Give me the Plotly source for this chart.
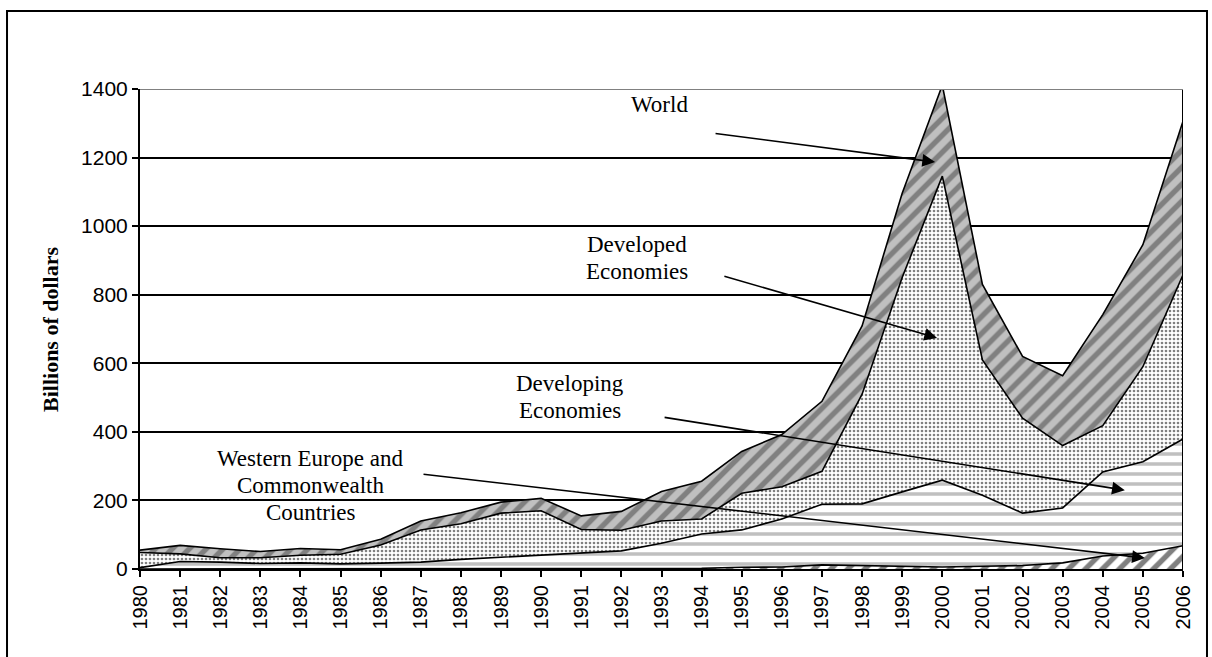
import plotly.graph_objects as go

years = list(range(1980, 2007))
world = [55, 69, 59, 51, 60, 56, 87, 140, 164, 195, 206, 155, 168, 226, 256, 343, 392, 489, 709, 1096, 1411, 830, 620, 564, 742, 946, 1306]
developed = [48, 44, 33, 33, 40, 43, 70, 114, 132, 163, 170, 115, 113, 140, 146, 221, 240, 285, 510, 850, 1146, 610, 440, 360, 418, 590, 858]
developing = [4, 22, 20, 16, 18, 15, 17, 20, 28, 34, 40, 45, 53, 75, 102, 114, 146, 189, 190, 225, 259, 215, 163, 178, 283, 313, 379]
cis = [0, 0, 0, 0, 0, 0, 0, 0, 0, 0, 0, 0, 1, 2, 2, 5, 6, 12, 10, 9, 6, 8, 10, 18, 38, 46, 68]
y_ticks = [0, 200, 400, 600, 800, 1000, 1200, 1400]

fig = go.Figure()

def area(vals, shape, fg, bg, size, solidity):
    fig.add_trace(go.Scatter(
        x=years, y=vals, mode="lines", fill="tozeroy",
        line=dict(color="black", width=1.6),
        fillpattern=dict(shape=shape, fgcolor=fg, bgcolor=bg, size=size,
                         solidity=solidity, fillmode="replace"),
        hoverinfo="skip", showlegend=False))

area(world, "/", "#808080", "#c0c0c0", 12, 0.45)
area(developed, ".", "#808080", "white", 4, 0.35)
area(developing, "-", "#c0c0c0", "white", 10, 0.35)
area(cis, "/", "#808080", "white", 12, 0.45)

serif = "Liberation Serif, Times New Roman, serif"
sans = "Liberation Sans, Arial, sans-serif"

labels = [
    (["World"], 1992.96, 1356),
    (["Developed", "Economies"], 1992.39, 907),
    (["Developing", "Economies"], 1990.72, 502),
    (["Western Europe and", "Commonwealth", "Countries"], 1984.24, 245),
]
arrows = [
    (1999.82, 1187, 1994.31, 1271),
    (1999.87, 674, 1994.53, 855),
    (2004.55, 230, 1993.04, 443),
    (2005.05, 32, 1987.03, 277),
]
annotations = []
spacing = 27
for lines, x, y in labels:
    n = len(lines)
    for i, t in enumerate(lines):
        annotations.append(dict(text=t, x=x, y=y, xref="x", yref="y", showarrow=False,
                                font=dict(family=serif, size=23, color="black"),
                                xanchor="center", yanchor="middle",
                                yshift=((n - 1) / 2 - i) * spacing))
for hx, hy, tx, ty in arrows:
    annotations.append(dict(text="", x=hx, y=hy, ax=tx, ay=ty, xref="x", yref="y",
                            axref="x", ayref="y", showarrow=True, arrowhead=2,
                            arrowsize=1.6, arrowwidth=1.6, arrowcolor="black", standoff=0))
annotations.append(dict(text="<b>Billions of dollars</b>", x=-0.0863, y=0.5,
                        xref="paper", yref="paper", textangle=-90, showarrow=False,
                        font=dict(family=serif, size=22, color="black"),
                        xanchor="center", yanchor="middle"))

fig.update_layout(
    width=1212, height=657,
    margin=dict(l=140, r=29, t=89, b=88),
    paper_bgcolor="white", plot_bgcolor="white",
    annotations=annotations,
    shapes=[
        dict(type="rect", xref="paper", yref="paper", x0=-0.1275, x1=1.023,
             y0=-0.25, y1=1.1625, line=dict(color="black", width=2), layer="above"),
        dict(type="line", xref="x", yref="y", x0=2006, x1=2006, y0=0, y1=1400,
             line=dict(color="black", width=2), layer="above"),
        dict(type="line", xref="x", yref="y", x0=1980, x1=2006, y0=1400, y1=1400,
             line=dict(color="#808080", width=2), layer="above"),
    ],
    xaxis=dict(range=[1980, 2006], tickvals=years, ticktext=[str(y) for y in years],
               tickangle=-90, ticks="outside", ticklen=6, tickcolor="black", tickwidth=1.5,
               showgrid=False, zeroline=False, showline=True, linecolor="black", linewidth=2,
               tickfont=dict(family=sans, size=20, color="black")),
    yaxis=dict(range=[0, 1400], tickvals=y_ticks, ticks="outside", ticklen=6,
               tickcolor="black", tickwidth=1.5, showgrid=True, gridcolor="black",
               gridwidth=1.5, zeroline=False, showline=True, linecolor="black", linewidth=2,
               tickfont=dict(family=sans, size=21, color="black")),
)

fig.write_html("out.html", config={"displayModeBar": False},
               post_script="document.body.style.margin='0px';document.body.style.overflow='hidden';")
